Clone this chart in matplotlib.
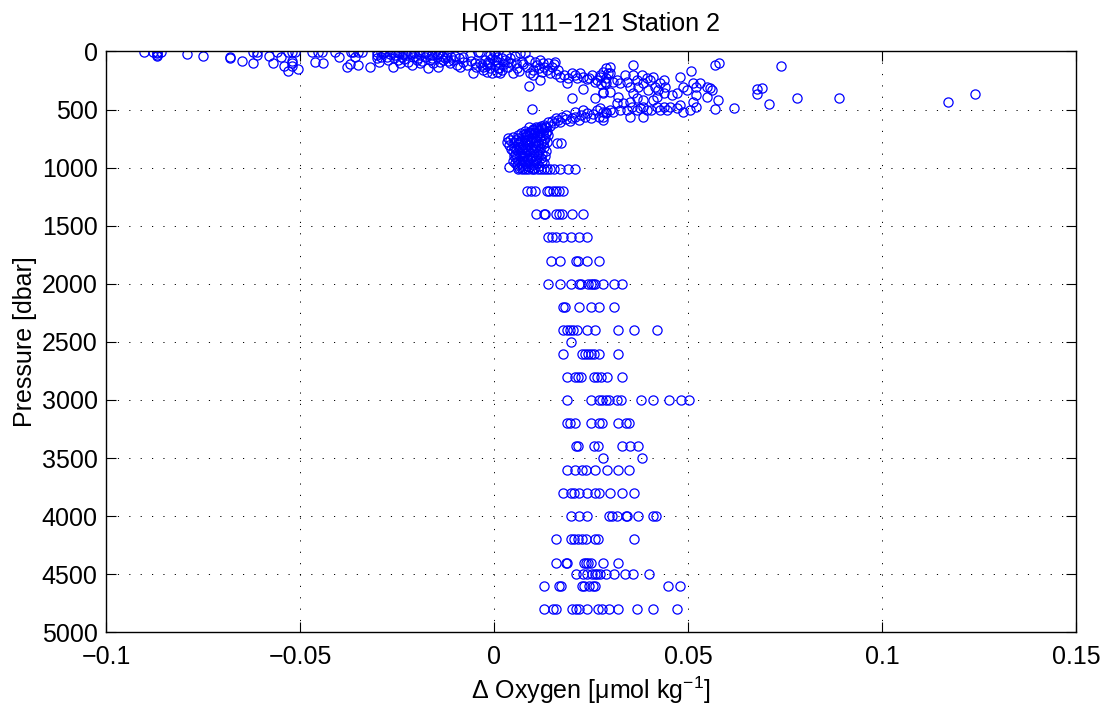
import matplotlib
matplotlib.use('Agg')
import matplotlib.pyplot as plt

## Data: (delta O2 [umol/kg], pressure [dbar])
# Mixed layer, strongly negative side
surface = [(-0.0901, 5), (-0.0880, 5), (-0.0869, 16), (-0.0869, 40), (-0.0868, 5), (-0.0859, 5),
           (-0.0869, 28), (-0.0790, 25), (-0.0749, 35), (-0.0680, 45), (-0.0680, 60), (-0.0649, 85),
           (-0.0620, 5), (-0.0610, 5), (-0.0610, 33), (-0.0620, 96), (-0.0581, 40), (-0.0570, 102),
           (-0.0560, 5), (-0.0550, 44), (-0.0540, 125), (-0.0530, 165), (-0.0530, 5), (-0.0521, 5),
           (-0.0521, 85), (-0.0521, 100), (-0.0513, 5), (-0.0504, 148), (-0.0521, 125),
           (-0.0470, 4), (-0.0461, 88), (-0.0453, 4), (-0.0442, 4), (-0.0440, 102), (-0.0410, 4),
           (-0.0399, 44), (-0.0380, 131), (-0.0371, 108), (-0.0369, 4), (-0.0363, 4), (-0.0358, 44),
           (-0.0350, 4), (-0.0350, 116), (-0.0339, 4), (-0.0320, 131), (-0.0301, 4), (-0.0301, 30),
           (-0.0301, 59), (-0.0297, 88), (-0.0290, 4), (-0.0290, 44), (-0.0281, 4), (-0.0272, 73),
           (-0.0264, 4), (-0.0260, 131), (-0.0255, 30), (-0.0251, 4), (-0.0247, 73), (-0.0242, 102),
           (-0.0238, 44), (-0.0229, 4), (-0.0225, 30), (-0.0221, 88), (-0.0216, 4), (-0.0212, 116),
           (-0.0208, 44), (-0.0199, 73), (-0.0191, 102), (-0.0182, 4), (-0.0178, 44), (-0.0174, 4),
           (-0.0169, 145), (-0.0165, 73), (-0.0156, 102), (-0.0152, 4), (-0.0148, 44), (-0.0143, 131),
           (-0.0139, 4), (-0.0131, 73), (-0.0122, 4), (-0.0122, 44), (-0.0113, 102), (-0.0105, 73),
           (-0.0096, 116), (-0.0088, 131), (-0.0079, 88), (-0.0070, 116), (-0.0062, 30), (-0.0053, 188),
           (-0.0040, 4), (-0.0036, 102), (-0.0028, 159), (-0.0019, 116), (-0.0010, 145), (-0.0006, 188),
           (0.0003, 4), (0.0003, 73), (0.0007, 174), (0.0014, 145),
           (-0.0285, 15), (-0.0268, 20), (-0.0245, 15), (-0.0235, 25), (-0.0215, 20), (-0.0205, 15),
           (-0.0190, 30), (-0.0170, 20), (-0.0160, 30), (-0.0145, 20), (-0.0135, 35), (-0.0125, 60),
           (-0.0110, 50), (-0.0100, 40), (-0.0090, 60), (-0.0080, 50), (-0.0275, 50), (-0.0258, 60),
           (-0.0232, 65), (-0.0195, 55), (-0.0185, 85), (-0.0160, 60), (-0.0140, 90), (-0.0118, 85),
           (-0.0060, 80), (-0.0050, 100), (-0.0045, 130), (-0.0030, 120), (-0.0015, 90)]

# Upper band, 0-400 dbar, small positive offsets
upper = [(-0.0036, 1), (0.0000, 1), (-0.0023, 73), (-0.0014, 102), (-0.0006, 59), (-0.0027, 131),
         (0.0003, 116), (0.0011, 145), (-0.0019, 174), (0.0015, 188), (0.0007, 44), (0.0020, 59),
         (0.0028, 73), (0.0041, 59), (0.0037, 131), (0.0050, 188), (0.0058, 102), (0.0067, 16),
         (0.0080, 16), (0.0071, 88), (0.0084, 131), (0.0093, 188), (0.0101, 159), (0.0110, 116),
         (0.0119, 73), (0.0127, 102), (0.0136, 159), (0.0144, 188), (0.0149, 131), (0.0157, 88),
         (0.0166, 159), (0.0170, 217), (0.0119, 245), (0.0090, 297), (0.0200, 182), (0.0209, 202),
         (0.0222, 188), (0.0230, 217), (0.0239, 240), (0.0252, 202), (0.0265, 245), (0.0273, 217),
         (0.0286, 260), (0.0295, 188), (0.0189, 268), (0.0230, 326), (0.0280, 346), (0.0260, 397),
         (0.0200, 397), (0.0010, 90), (0.0025, 110), (0.0045, 100), (0.0060, 140), (0.0075, 110),
         (0.0090, 70), (0.0105, 90), (0.0115, 140), (0.0130, 130), (0.0140, 100), (0.0155, 110),
         (0.0020, 160), (0.0065, 170), (0.0100, 200), (0.0125, 180), (0.0160, 190), (0.0030, 30),
         (0.0055, 40), (-0.0010, 30), (0.0035, 90), (0.0180, 200), (0.0190, 230), (0.0215, 230),
         (0.0245, 225), (0.0260, 260), (0.0275, 280), (0.0290, 270)]

# Thermocline, 100-600 dbar, larger offsets
thermo = [(0.0273, 202), (0.0282, 174), (0.0290, 145), (0.0299, 131), (0.0299, 188), (0.0290, 231),
          (0.0308, 260), (0.0316, 245), (0.0325, 274), (0.0338, 202), (0.0342, 260), (0.0351, 303),
          (0.0359, 202), (0.0359, 116), (0.0368, 245), (0.0372, 303), (0.0381, 202), (0.0385, 274),
          (0.0394, 231), (0.0398, 331), (0.0402, 245), (0.0411, 217), (0.0415, 303), (0.0424, 331),
          (0.0428, 274), (0.0437, 245), (0.0441, 303), (0.0437, 360), (0.0419, 389), (0.0458, 374),
          (0.0471, 360), (0.0479, 217), (0.0488, 303), (0.0497, 331), (0.0509, 168), (0.0514, 274),
          (0.0522, 303), (0.0531, 274), (0.0522, 374), (0.0548, 303), (0.0557, 317), (0.0548, 389),
          (0.0561, 331), (0.0578, 417), (0.0570, 498), (0.0522, 475), (0.0514, 432), (0.0505, 504),
          (0.0488, 518), (0.0479, 461), (0.0471, 490), (0.0454, 475), (0.0445, 504), (0.0437, 475),
          (0.0428, 504), (0.0419, 475), (0.0406, 504), (0.0394, 504), (0.0385, 475), (0.0376, 490),
          (0.0368, 504), (0.0355, 475), (0.0351, 561), (0.0342, 504), (0.0325, 504), (0.0308, 518),
          (0.0290, 518), (0.0282, 561), (0.0273, 490), (0.0282, 590), (0.0385, 561), (0.0411, 417),
          (0.0385, 417), (0.0368, 403), (0.0351, 432), (0.0320, 389), (0.0299, 346), (0.0282, 360),
          (0.0316, 446), (0.0333, 446), (0.0359, 360),
          (0.0739, 122), (0.0619, 489), (0.0679, 325), (0.0690, 317), (0.0679, 368), (0.0710, 452),
          (0.0780, 397), (0.0890, 397), (0.1169, 432), (0.1239, 366), (0.0570, 116), (0.0581, 102)]

# Arm joining the thermocline to the intermediate core
arm = [(0.0097, 498), (0.0300, 504), (0.0290, 530), (0.0280, 520), (0.0270, 560), (0.0265, 500),
       (0.0255, 540), (0.0250, 575), (0.0240, 530), (0.0235, 560), (0.0225, 545), (0.0220, 590),
       (0.0210, 560), (0.0200, 575), (0.0195, 600), (0.0185, 580), (0.0175, 560), (0.0170, 610),
       (0.0165, 590), (0.0155, 620), (0.0150, 600), (0.0145, 640), (0.0140, 610), (0.0135, 650),
       (0.0130, 630), (0.0125, 660), (0.0120, 640), (0.0115, 680), (0.0110, 660), (0.0105, 690),
       (0.0100, 670), (0.0095, 700), (0.0090, 690), (0.0085, 720), (0.0080, 710), (0.0210, 520),
       (0.0230, 500), (0.0160, 570), (0.0185, 545)]

# Intermediate core, 650-1020 dbar
core = [(0.0090, 652), (0.0108, 648), (0.0121, 655), (0.0131, 650),
        (0.0079, 681), (0.0101, 678), (0.0116, 684), (0.0129, 679), (0.0138, 683),
        (0.0070, 702), (0.0091, 699), (0.0102, 705), (0.0119, 701), (0.0134, 698),
        (0.0061, 722), (0.0076, 719), (0.0090, 724), (0.0111, 720), (0.0126, 718), (0.0139, 723),
        (0.0036, 741), (0.0049, 738), (0.0062, 744), (0.0081, 740), (0.0099, 743), (0.0118, 739), (0.0131, 742),
        (0.0041, 762), (0.0056, 759), (0.0069, 761), (0.0086, 764), (0.0096, 758), (0.0109, 763), (0.0128, 760),
        (0.0034, 781), (0.0051, 778), (0.0066, 783), (0.0079, 779), (0.0094, 782), (0.0106, 777), (0.0121, 784), (0.0136, 780),
        (0.0039, 801), (0.0061, 799), (0.0074, 803), (0.0091, 798), (0.0101, 802), (0.0114, 800), (0.0126, 797),
        (0.0162, 790), (0.0173, 788),
        (0.0051, 822), (0.0064, 819), (0.0081, 821), (0.0096, 823), (0.0109, 818), (0.0129, 820),
        (0.0044, 841), (0.0056, 839), (0.0071, 843), (0.0084, 838), (0.0101, 842), (0.0119, 840),
        (0.0049, 861), (0.0061, 859), (0.0076, 863), (0.0089, 858), (0.0104, 862), (0.0116, 860), (0.0134, 857),
        (0.0054, 881), (0.0069, 879), (0.0081, 883), (0.0094, 878), (0.0111, 882), (0.0124, 880),
        (0.0051, 901), (0.0066, 899), (0.0074, 903), (0.0086, 898), (0.0099, 902), (0.0114, 900), (0.0131, 897),
        (0.0056, 921), (0.0071, 919), (0.0084, 923), (0.0096, 918), (0.0109, 922), (0.0121, 920),
        (0.0049, 941), (0.0061, 939), (0.0076, 943), (0.0089, 938), (0.0106, 942), (0.0124, 940),
        (0.0054, 961), (0.0066, 959), (0.0079, 963), (0.0094, 958), (0.0111, 962), (0.0129, 960),
        (0.0059, 981), (0.0071, 979), (0.0086, 983), (0.0101, 978), (0.0116, 982),
        (0.0040, 997), (0.0064, 999), (0.0076, 1003), (0.0091, 998), (0.0104, 1002),
        (0.0062, 1014), (0.0071, 1014), (0.0079, 1014), (0.0088, 1014), (0.0097, 1014), (0.0104, 1014),
        (0.0113, 1014), (0.0121, 1014), (0.0128, 1014), (0.0137, 1014), (0.0145, 1014), (0.0156, 1014),
        (0.0170, 1014), (0.0190, 1014), (0.0209, 1014)]

# Deep bottle levels and the offsets found at each one
deep_pres = [1200, 1400, 1600, 1800, 2000, 2200, 2400, 2500, 2600, 2800, 3000, 3200,
             3400, 3500, 3600, 3800, 4000, 4200, 4400, 4500, 4600, 4800]
deep_dox = [
    [0.0086, 0.0095, 0.0105, 0.0137, 0.0142, 0.0151, 0.0159, 0.0168, 0.0178],
    [0.0108, 0.0129, 0.0131, 0.0159, 0.0167, 0.0176, 0.0200, 0.0229],
    [0.0140, 0.0150, 0.0159, 0.0178, 0.0199, 0.0219, 0.0240],
    [0.0148, 0.0169, 0.0211, 0.0216, 0.0240, 0.0270],
    [0.0140, 0.0169, 0.0198, 0.0219, 0.0224, 0.0243, 0.0249, 0.0256, 0.0260, 0.0282, 0.0310, 0.0331],
    [0.0177, 0.0184, 0.0219, 0.0249, 0.0270, 0.0310],
    [0.0178, 0.0187, 0.0196, 0.0204, 0.0213, 0.0240, 0.0260, 0.0320, 0.0360, 0.0420],
    [0.0199],
    [0.0178, 0.0227, 0.0234, 0.0242, 0.0250, 0.0259, 0.0272, 0.0320],
    [0.0189, 0.0209, 0.0216, 0.0225, 0.0258, 0.0266, 0.0275, 0.0291, 0.0330],
    [0.0189, 0.0249, 0.0271, 0.0279, 0.0288, 0.0297, 0.0318, 0.0328, 0.0380, 0.0409, 0.0451, 0.0481, 0.0502],
    [0.0189, 0.0197, 0.0210, 0.0249, 0.0271, 0.0278, 0.0319, 0.0340, 0.0349],
    [0.0211, 0.0216, 0.0259, 0.0269, 0.0330, 0.0351, 0.0371],
    [0.0281, 0.0382],
    [0.0189, 0.0209, 0.0228, 0.0237, 0.0260, 0.0291, 0.0319, 0.0349],
    [0.0178, 0.0198, 0.0207, 0.0219, 0.0239, 0.0260, 0.0271, 0.0299, 0.0330, 0.0360],
    [0.0199, 0.0220, 0.0239, 0.0297, 0.0305, 0.0318, 0.0340, 0.0344, 0.0371, 0.0409, 0.0418],
    [0.0160, 0.0198, 0.0207, 0.0216, 0.0226, 0.0237, 0.0260, 0.0269, 0.0360],
    [0.0160, 0.0186, 0.0189, 0.0232, 0.0237, 0.0243, 0.0249, 0.0280, 0.0319],
    [0.0211, 0.0229, 0.0241, 0.0253, 0.0260, 0.0266, 0.0273, 0.0290, 0.0309, 0.0339, 0.0359, 0.0400],
    [0.0130, 0.0168, 0.0174, 0.0228, 0.0232, 0.0246, 0.0254, 0.0260, 0.0449, 0.0479],
    [0.0129, 0.0151, 0.0160, 0.0200, 0.0211, 0.0219, 0.0239, 0.0269, 0.0278, 0.0297, 0.0319,
     0.0368, 0.0409, 0.0471],
]

xticks = [-0.1, -0.05, 0, 0.05, 0.1, 0.15]
xtick_labels = ['\u22120.1', '\u22120.05', '0', '0.05', '0.1', '0.15']
yticks = [0, 500, 1000, 1500, 2000, 2500, 3000, 3500, 4000, 4500, 5000]

# Collect everything into one series
dox = []
pres = []
for group in (surface, upper, thermo, arm, core):
    for d, p in group:
        dox.append(d)
        pres.append(p)
for p, row in zip(deep_pres, deep_dox):
    for d in row:
        dox.append(d)
        pres.append(p)

plt.rcParams['font.family'] = ['Liberation Sans', 'DejaVu Sans']
plt.rcParams['mathtext.fontset'] = 'custom'
plt.rcParams['mathtext.rm'] = 'Liberation Sans'
plt.rcParams['mathtext.default'] = 'regular'

fig = plt.figure(figsize=(11.05, 7.11), dpi=100)
ax = fig.add_axes([0.0959, 0.1107, 0.8778, 0.8169])

ax.plot(dox, pres, 'o', mfc='none', mec='#0000ff', ms=6.6, mew=0.9, linestyle='none')

ax.set_xlim(-0.1, 0.15)
ax.set_ylim(5000, 0)
ax.set_xticks(xticks)
ax.set_xticklabels(xtick_labels)
ax.set_yticks(yticks)

ax.grid(True, color='black', linestyle=(0, (1.2, 10.5)), linewidth=0.7)
ax.tick_params(direction='in', length=7, width=0.8, top=True, right=True,
               labelsize=18)
ax.tick_params(axis='x', pad=9)
ax.tick_params(axis='y', pad=6)
for s in ax.spines.values():
    s.set_linewidth(1.0)

ax.set_title('HOT 111\u2212121 Station 2', fontsize=18, pad=15)
ax.set_xlabel('\u0394 Oxygen [\u03bcmol kg$^{\u22121}$]', fontsize=18, labelpad=4)
ax.set_ylabel('Pressure [dbar]', fontsize=18, labelpad=3)

fig.savefig('out.png', dpi=100)
